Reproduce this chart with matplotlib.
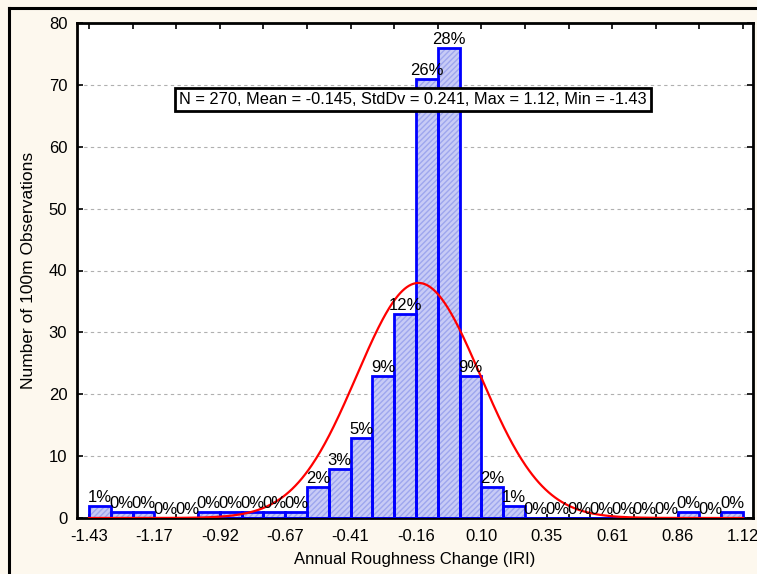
import numpy as np
import matplotlib
matplotlib.use("Agg")
import matplotlib.pyplot as plt
from matplotlib.lines import Line2D

plt.rcParams['font.family'] = ['Liberation Sans', 'DejaVu Sans']

# Histogram of annual roughness change (30 bins from -1.43 to 1.12)
bin_start = -1.43
bin_end = 1.12
counts = [2, 1, 1, 0, 0, 1, 1, 1, 1, 1,
          5, 8, 13, 23, 33, 71, 76, 23, 5, 2,
          0, 0, 0, 0, 0, 0, 0, 1, 0, 1]
x_tick_labels = ["-1.43", "-1.17", "-0.92", "-0.67", "-0.41", "-0.16",
                 "0.10", "0.35", "0.61", "0.86", "1.12"]
y_ticks = [0, 10, 20, 30, 40, 50, 60, 70, 80]
n_obs = 270
mean_val = -0.145
std_val = 0.241
max_val = 1.12
min_val = -1.43

counts = np.array(counts)
nbins = len(counts)
edges = np.linspace(bin_start, bin_end, nbins + 1)
width = edges[1] - edges[0]

W, H = 757, 574
fig = plt.figure(figsize=(W / 100, H / 100), dpi=100)
fig.patch.set_facecolor('#fdf8ee')

# frame lines along the top and left of the figure
fig.add_artist(Line2D([9 / W, 9 / W], [0, 1 - 8 / H], transform=fig.transFigure,
                      color='black', lw=2.2))
fig.add_artist(Line2D([9 / W, 1], [1 - 8 / H, 1 - 8 / H], transform=fig.transFigure,
                      color='black', lw=2.2))

left, right, top, bottom = 77, 753, 23, 518
ax = fig.add_axes([left / W, 1 - bottom / H, (right - left) / W, (bottom - top) / H])
ax.set_facecolor('white')

ax.set_xlim(bin_start - 12 / 256.5, bin_end + 10 / 256.5)
ax.set_ylim(0, 80)

# horizontal dashed grid
for yv in y_ticks[1:-1]:
    ax.axhline(yv, color='#b0b0b0', lw=0.8, ls=(0, (3, 3)), zorder=0)

# bars: hatched fill, then blue outline
ax.bar(edges[:-1], counts, width=width, align='edge', color='#c8cbf6',
       edgecolor='#9ea6ee', hatch='//////', linewidth=0, zorder=2)
ax.bar(edges[:-1], counts, width=width, align='edge', fill=False,
       edgecolor='#0000ff', linewidth=2.0, zorder=3)

# percentage labels
for xl, c in zip(edges[:-1], counts):
    pct = int(round(100 * c / n_obs))
    ax.text(xl + width / 2, c + 0.1, f"{pct}%", ha='center', va='bottom',
            fontsize=12, color='black', zorder=5)

# expected normal curve
xs = np.linspace(bin_start, bin_end, 600)
ys = n_obs * width / (std_val * np.sqrt(2 * np.pi)) * np.exp(-0.5 * ((xs - mean_val) / std_val) ** 2)
ax.plot(xs, ys, color='#ff0000', lw=1.6, zorder=4)

# ticks
ax.set_xticks(edges[::3])
ax.set_xticklabels(x_tick_labels)
ax.set_xticks(edges, minor=True)
ax.set_yticks(y_ticks)
ax.tick_params(axis='x', which='both', direction='in', length=3, width=1.2,
               labelsize=12, pad=8)
ax.tick_params(axis='y', direction='in', length=4, width=1.2, labelsize=12,
               right=True, pad=7)

# ticks along the top spine
sec = ax.secondary_xaxis('top')
sec.set_xticks(np.linspace(bin_start, bin_end, 16))
sec.tick_params(direction='in', length=4, width=1.2, labeltop=False)
sec.spines['top'].set_visible(False)

for sp in ax.spines.values():
    sp.set_linewidth(2)
    sp.set_color('black')

ax.set_ylabel("Number of 100m Observations", fontsize=12.5, labelpad=9)
ax.set_xlabel("Annual Roughness Change (IRI)", fontsize=12, labelpad=6)

ax.text(-0.167, 67.6,
        f"N = {n_obs}, Mean = {mean_val}, StdDv = {std_val}, Max = {max_val}, Min = {min_val}",
        ha='center', va='center', fontsize=11.8, zorder=6,
        bbox=dict(boxstyle='square,pad=0.25', facecolor='white', edgecolor='black', lw=2))

fig.savefig("out.png", dpi=100, facecolor=fig.get_facecolor())
